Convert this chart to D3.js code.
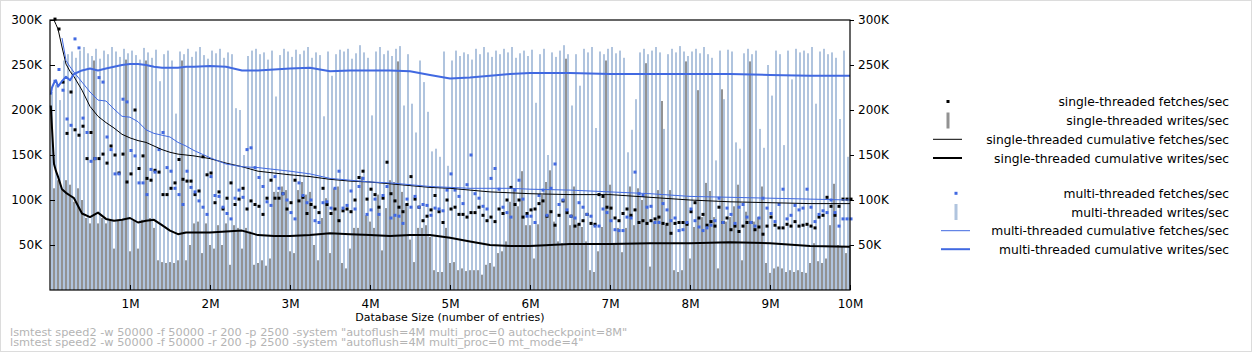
<!DOCTYPE html>
<html>
<head>
<meta charset="utf-8">
<script src="https://cdn.jsdelivr.net/npm/d3@7"></script>
<style>
  body { margin: 0; background: #fff; }
  svg text { font-family: "DejaVu Sans", sans-serif; font-size: 12px; }
</style>
</head>
<body>
<div id="chart"></div>
<script>
// sample step: one sample every 50000 entries, i = 1..200
var step = 50000;

var stFetches = [301,290,231,174,220,178,172,182,146,175,
  146,146,151,141,160,150,130,151,120,129,
  200,135,149,124,122,133,131,106,106,113,
  119,145,123,121,121,106,110,148,128,130,
  97,109,90,102,119,95,101,113,90,99,
  95,93,84,102,122,102,102,107,90,97,
  122,99,103,85,95,92,86,113,95,85,
  90,77,88,90,87,100,125,132,101,112,
  106,92,102,142,107,99,92,87,95,126,
  101,92,77,82,89,105,87,75,100,90,
  92,84,84,81,86,86,92,83,77,81,
  76,90,85,100,114,95,100,81,85,89,
  90,96,99,82,87,72,83,99,86,82,
  71,73,77,84,74,73,106,104,92,91,
  80,77,85,90,83,89,75,77,74,77,
  79,81,74,73,63,74,75,75,73,87,
  97,80,84,72,76,71,92,75,80,67,
  71,65,71,75,75,67,70,62,71,81,
  72,69,69,73,71,76,71,72,73,71,
  69,81,83,103,93,83,93,101,101,101];

var stWrites = [113,122,111,122,117,98,113,100,80,74,
  255,74,80,74,78,46,78,78,256,43,
  78,46,78,255,80,69,33,31,30,31,
  30,33,255,33,50,74,76,41,74,50,
  46,72,50,74,28,72,69,46,69,65,
  28,30,33,27,35,109,109,115,111,43,
  41,111,120,106,109,50,33,80,102,41,
  113,115,30,24,46,69,69,126,83,76,
  69,106,44,91,122,120,254,109,96,56,
  31,69,69,72,59,22,20,20,69,30,
  31,22,24,21,22,22,22,17,28,30,
  26,41,43,54,98,113,93,132,72,72,
  35,73,106,120,133,76,54,52,257,72,
  115,73,70,54,22,20,43,70,255,117,
  50,69,42,69,115,72,113,100,252,26,
  76,111,210,72,111,22,20,22,254,35,
  70,222,81,119,110,81,24,223,76,81,
  93,117,33,87,254,76,81,115,30,19,
  24,26,24,20,22,20,22,20,19,30,
  52,32,30,35,72,118,50,48,41,50];

var mtFetches = [232,245,222,190,183,279,269,191,175,143,
  146,236,231,170,156,129,129,212,209,155,
  149,119,119,106,134,131,156,175,136,132,
  113,106,95,132,114,109,99,92,84,126,
  105,104,92,85,79,102,111,103,156,158,
  136,125,115,98,94,126,113,107,100,86,
  79,119,105,97,100,77,75,97,98,91,
  113,132,91,94,110,90,115,124,84,89,
  101,84,105,115,80,83,82,74,101,92,
  104,92,95,94,83,91,90,88,111,129,
  111,104,96,117,150,107,102,93,90,124,
  135,112,92,86,81,111,122,101,82,82,
  75,105,111,83,113,140,95,100,89,82,
  80,97,92,84,82,71,71,90,86,77,
  67,66,66,81,80,131,107,105,92,93,
  75,75,96,89,77,80,66,67,75,90,
  77,70,66,69,72,77,102,75,91,84,
  74,92,95,81,75,71,80,102,91,85,
  76,95,112,79,83,94,89,91,112,92,
  76,84,88,86,100,86,71,79,79,79];

var mtWrites = [220,228,211,255,262,265,258,266,270,263,
  260,268,257,266,262,270,265,259,268,263,
  266,261,256,269,264,258,267,232,262,266,
  255,196,265,262,268,259,265,270,261,257,
  266,263,268,258,264,262,202,200,150,260,
  266,268,262,264,256,266,215,261,268,265,
  259,267,262,266,270,258,264,261,193,265,
  238,262,267,265,268,257,263,272,264,258,
  194,265,270,262,266,260,268,271,205,262,
  207,175,255,231,198,154,157,148,265,138,
  255,266,260,264,262,256,268,262,270,264,
  259,266,262,268,264,270,258,263,266,260,
  267,208,262,268,150,264,259,266,272,262,
  205,262,227,268,264,270,180,265,262,268,
  270,263,266,258,153,178,212,264,268,262,
  266,270,264,179,262,268,264,271,265,260,
  265,268,263,270,262,258,144,266,212,267,
  265,164,157,263,268,262,266,179,158,250,
  216,266,262,161,266,234,268,264,266,263,
  270,207,265,268,262,264,258,190,266,148];

// cumulative rates, sampled at these positions (thousands of entries)
var cumX = [10,25,50,75,100,150,200,250,300,400,500,600,700,800,900,1000,
  1100,1200,1300,1400,1500,1600,1700,1800,2000,2200,2400,2600,2800,3000,
  3250,3500,3750,4000,4250,4500,4750,5000,5250,5500,5750,6000,6500,7000,
  7500,8000,8500,9000,9500,10000];

var stCumFetches = [null,null,300,295,290,270,251,243,237,222,204,193,186,180,173,169,
  166,164,160,156,153,151,150,149,146,141,137,132,130,128,
  126,123,121,120,118,116,114,113,111,109,108,107,106,106,
  103,100,98,97,96,96];

var stCumWrites = [205,180,140,132,126,112,108,105,102,85,81,86,79,77,78,80,
  75,77,78,72,66,62,64,64,64,65,66,61,60,60,
  61,63,62,61,60,61,61,58,54,50,49,49,51,51,
  52,52,53,52,49,48];

var mtCumFetches = [null,null,null,null,null,280,255,248,242,231,220,211,210,201,193,192,
  187,178,174,172,170,164,160,155,147,140,137,136,134,132,
  129,124,122,120,119,117,115,114,113,113,113,112,111,109,
  107,104,103,102,101,100];

var mtCumWrites = [217,225,230,233,226,232,237,233,240,244,246,244,246,248,250,251,
  251,250,248,247,247,247,248,248,249,248,244,244,245,246,
  247,243,244,244,244,243,239,235,236,238,240,241,241,240,
  240,240,240,239,238,238];

var xTicks = [1,2,3,4,5,6,7,8,9,10];
var yTicks = [50,100,150,200,250,300];

var legendItems = [
  "single-threaded fetches/sec",
  "single-threaded writes/sec",
  "single-threaded cumulative fetches/sec",
  "single-threaded cumulative writes/sec",
  "multi-threaded fetches/sec",
  "multi-threaded writes/sec",
  "multi-threaded cumulative fetches/sec",
  "multi-threaded cumulative writes/sec"
];

var cmdLines = [
  'lsmtest speed2 -w 50000 -f 50000 -r 200 -p 2500 -system "autoflush=4M multi_proc=0 autocheckpoint=8M"',
  'lsmtest speed2 -w 50000 -f 50000 -r 200 -p 2500 -system "autoflush=4M multi_proc=0 mt_mode=4"'
];

var width = 1252, height = 352;
var padL = 50, padR = 850, padT = 20, padB = 290;

var black = "#000000", gray = "#929292", blue = "#4169e1", lightblue = "#b0c4de";

var x = d3.scaleLinear().domain([0, 10000000]).range([padL, padR]);
var y = d3.scaleLinear().domain([0, 300]).range([padB, padT]);

var svg = d3.select("#chart").append("svg")
  .attr("width", width)
  .attr("height", height);

svg.append("rect")
  .attr("x", 0.5).attr("y", 0.5)
  .attr("width", width - 1).attr("height", height - 1)
  .attr("fill", "#fff")
  .attr("stroke", "#dcdcdc");

var plot = svg.append("g");

// bars: multi-threaded writes sit half a step before the single-threaded ones
plot.selectAll(".mtw").data(mtWrites).enter().append("rect")
  .attr("x", function (d, i) { return x((i + 0.5) * step) - 1; })
  .attr("y", function (d) { return y(d); })
  .attr("width", 2)
  .attr("height", function (d) { return padB - y(d); })
  .attr("fill", lightblue);

plot.selectAll(".stw").data(stWrites).enter().append("rect")
  .attr("x", function (d, i) { return x((i + 1) * step) - 1; })
  .attr("y", function (d) { return y(d); })
  .attr("width", 2)
  .attr("height", function (d) { return padB - y(d); })
  .attr("fill", gray);

function dots(data, color) {
  plot.append("g").selectAll("rect").data(data).enter().append("rect")
    .attr("x", function (d, i) { return x((i + 1) * step) - 0.5; })
    .attr("y", function (d) { return y(d) - 1.5; })
    .attr("width", 3)
    .attr("height", 3)
    .attr("fill", color);
}

dots(stFetches, black);
dots(mtFetches, blue);

var line = d3.line()
  .defined(function (d) { return d != null; })
  .x(function (d, i) { return x(cumX[i] * 1000); })
  .y(function (d) { return y(d); });

function cumLine(data, color, w) {
  plot.append("path")
    .datum(data)
    .attr("d", line)
    .attr("fill", "none")
    .attr("stroke", color)
    .attr("stroke-width", w)
    .attr("stroke-linejoin", "round");
}

cumLine(stCumFetches, black, 1);
cumLine(stCumWrites, black, 2);
cumLine(mtCumFetches, blue, 1);
cumLine(mtCumWrites, blue, 2);

// frame
svg.append("rect")
  .attr("x", padL).attr("y", padT)
  .attr("width", padR - padL).attr("height", padB - padT)
  .attr("fill", "none")
  .attr("stroke", "#000")
  .attr("stroke-width", 1.2);

// axes
var xAxis = d3.axisBottom(x)
  .tickValues(xTicks.map(function (d) { return d * 1000000; }))
  .tickFormat(function (d) { return (d / 1000000) + "M"; })
  .tickSizeInner(-5).tickSizeOuter(0).tickPadding(9);

var gx = svg.append("g").attr("transform", "translate(0," + padB + ")").call(xAxis);
gx.select(".domain").remove();

var yAxisL = d3.axisLeft(y).tickValues(yTicks)
  .tickFormat(function (d) { return d + "K"; })
  .tickSizeInner(-5).tickSizeOuter(0).tickPadding(8);
var gyl = svg.append("g").attr("transform", "translate(" + padL + ",0)").call(yAxisL);
gyl.select(".domain").remove();

var yAxisR = d3.axisRight(y).tickValues(yTicks)
  .tickFormat(function (d) { return d + "K"; })
  .tickSizeInner(4).tickSizeOuter(0).tickPadding(4);
var gyr = svg.append("g").attr("transform", "translate(" + padR + ",0)").call(yAxisR);
gyr.select(".domain").remove();

svg.selectAll(".tick text")
  .attr("fill", "#000")
  .style("font-family", "DejaVu Sans, sans-serif")
  .style("font-size", "12px");
svg.selectAll(".tick line").attr("stroke", "#000");

svg.append("text")
  .attr("x", 450).attr("y", 321)
  .attr("text-anchor", "middle")
  .style("font-size", "11px")
  .text("Database Size (number of entries)");

svg.selectAll(".cmd").data(cmdLines).enter().append("text")
  .attr("x", 10)
  .attr("y", function (d, i) { return 336 + i * 10; })
  .attr("fill", "#b4b4b4")
  .style("font-size", "11.3px")
  .text(function (d) { return d; });

// legend
var legY = [101.5, 120.5, 139.3, 158, 193.3, 212, 230.7, 249.2];
var legend = svg.append("g");
legendItems.forEach(function (name, k) {
  var cy = legY[k];
  var multi = k >= 4;
  var sx = multi ? 956 : 948;
  var color = multi ? blue : black;
  var kind = k % 4;
  if (kind === 0) {
    legend.append("rect").attr("x", sx - 1.5).attr("y", cy - 1.5).attr("width", 3).attr("height", 3).attr("fill", color);
  } else if (kind === 1) {
    legend.append("rect").attr("x", sx - 1.5).attr("y", cy - 8).attr("width", 3).attr("height", 16)
      .attr("fill", multi ? lightblue : gray);
  } else {
    legend.append("line")
      .attr("x1", sx - 15).attr("x2", sx + 14)
      .attr("y1", cy).attr("y2", cy)
      .attr("stroke", color)
      .attr("stroke-width", kind === 2 ? 1 : 2);
  }
  legend.append("text")
    .attr("x", 1229).attr("y", cy + 4.5)
    .attr("text-anchor", "end")
    .style("font-size", "12.3px")
    .text(name);
});
</script>
</body>
</html>
